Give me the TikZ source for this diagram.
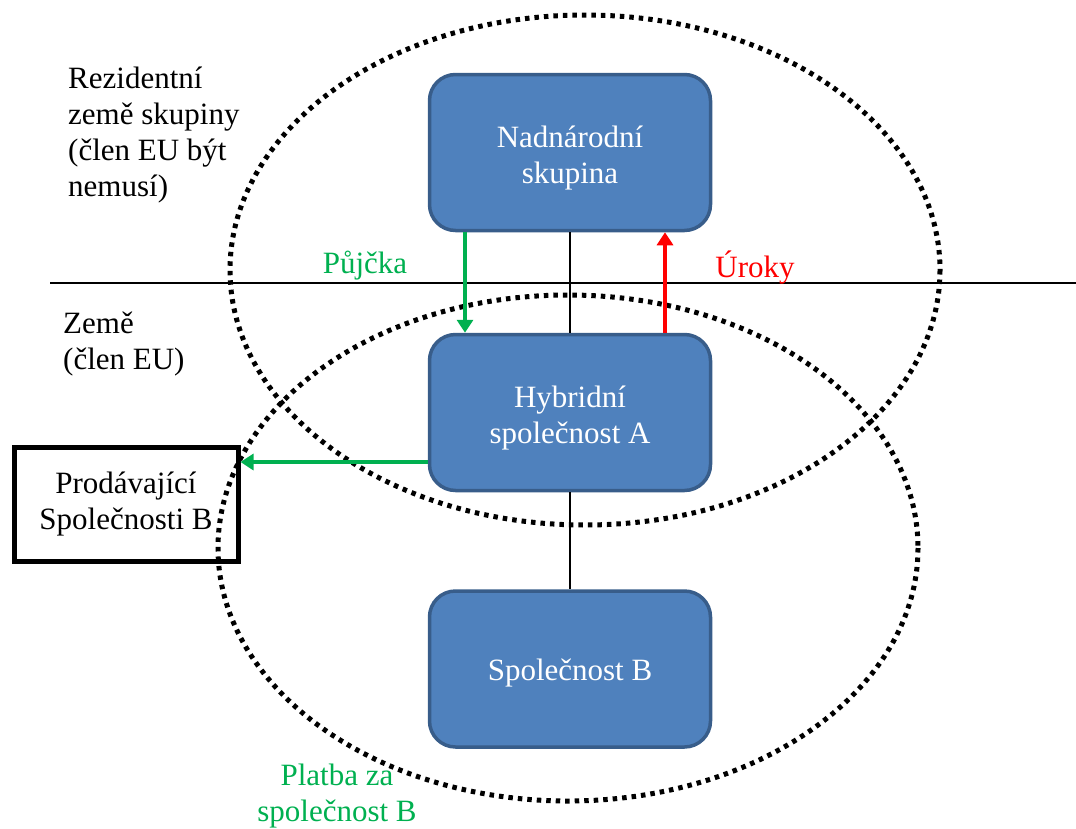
\documentclass[tikz,border=0pt]{standalone}
\usepackage{fontspec}
\setmainfont{LiberationSerif}[Extension=.ttf, UprightFont=*-Regular, BoldFont=*-Bold, ItalicFont=*-Italic, BoldItalicFont=*-BoldItalic]
\usetikzlibrary{arrows.meta}
\definecolor{boxfill}{HTML}{4F81BD}
\definecolor{boxedge}{HTML}{385D8A}
\definecolor{flowgreen}{HTML}{00B050}
\definecolor{flowred}{HTML}{FF0000}
\tikzset{
  entity/.style={draw=boxedge, fill=boxfill, line width=3.5pt, rounded corners=26pt,
    minimum width=281pt, minimum height=156pt},
  entitytext/.style={text=white, align=center, font=\fontsize{31}{36}\selectfont},
  seller/.style={draw=black, line width=5pt, minimum width=224pt, minimum height=114pt,
    align=center, font=\fontsize{31}{36}\selectfont},
  plaintext/.style={align=left, font=\fontsize{31}{36}\selectfont, inner sep=0pt},
  region/.style={draw=black, line width=5pt, dash pattern=on 4.5pt off 5pt},
  flow/.style={line width=3.5pt, -{Triangle[length=13pt,width=16pt]}},
  link/.style={draw=black, line width=1.2pt}
}
\begin{document}
\begin{tikzpicture}[x=1pt,y=-1pt]
\useasboundingbox (0,0) rectangle (1076,828);

% country regions
\draw[region] (585,270) ellipse [x radius=355, y radius=255];
\draw[region] (568,548) ellipse [x radius=350, y radius=253];

% border between the two countries
\coordinate (bl) at (50,283);
\coordinate (br) at (1076,283);
\draw[line width=1.2pt] (bl) -- (br);

% companies (text sits slightly below the box centre)
\node[entity] (group) at (570,152.5) {};
\node[entitytext] (grouptext) at ([yshift=-6pt]group.center) {Nadnárodní\\skupina};
\node[entity] (hybrid) at (570,412.5) {};
\node[entitytext] (hybridtext) at ([yshift=-6pt]hybrid.center) {Hybridní\\společnost A};
\node[entity] (compB) at (570,669) {};
\node[entitytext] (compBtext) at ([yshift=-4pt]compB.center) {Společnost B};
\node[seller] (seller) at (126,504) {Prodávající\\Společnosti B};

% ownership links
\draw[link] (group.south) -- (hybrid.north);
\draw[link] (hybrid.south) -- (compB.north);

% money flows
\draw[flow, flowgreen] (group.south -| 465,0) -- (hybrid.north -| 465,0);
\draw[flow, flowred] (hybrid.north -| 665,0) -- (group.south -| 665,0);
\draw[flow, flowgreen] (hybrid.west |- 0,462) -- (seller.east |- 0,462);

% free-standing labels
\node[plaintext, text=flowgreen] (loan) at (365,266) {Půjčka};
\node[plaintext, text=flowred] (interest) at (755,268) {Úroky};
\node[plaintext, anchor=north west] (home) at (68,67) {Rezidentní\\země skupiny\\(člen EU být\\nemusí)};
\node[plaintext, anchor=north west] (eu) at (63,312) {Země\\(člen EU)};
\node[plaintext, text=flowgreen, align=center] (pay) at (337,796) {Platba za\\společnost B};
\end{tikzpicture}
\end{document}
